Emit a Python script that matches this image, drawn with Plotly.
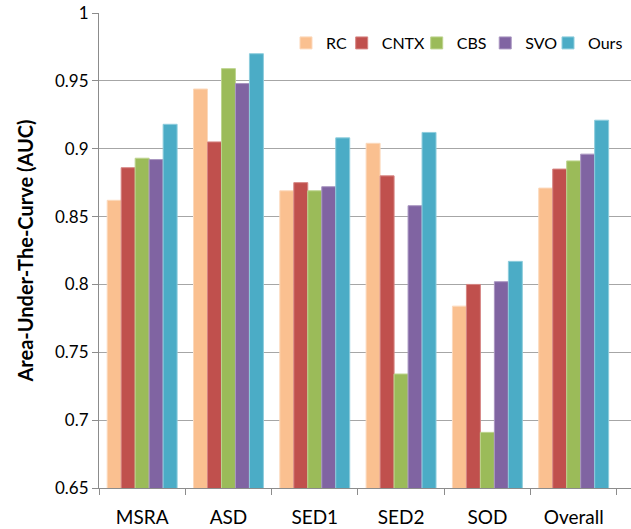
import plotly.graph_objects as go

categories = ["MSRA", "ASD", "SED1", "SED2", "SOD", "Overall"]
rc = [0.862, 0.944, 0.869, 0.904, 0.784, 0.871]
cntx = [0.886, 0.905, 0.875, 0.880, 0.800, 0.885]
cbs = [0.893, 0.959, 0.869, 0.734, 0.691, 0.891]
svo = [0.892, 0.948, 0.872, 0.858, 0.802, 0.896]
ours = [0.918, 0.970, 0.908, 0.912, 0.817, 0.921]
y_ticks = [0.65, 0.7, 0.75, 0.8, 0.85, 0.9, 0.95, 1]
y_tick_text = ["0.65", "0.7", "0.75", "0.8", "0.85", "0.9", "0.95", "1"]

series = [
    ("RC", rc, "#FAC090", "#FCD9BC"),
    ("CNTX", cntx, "#C0504D", "#D68583"),
    ("CBS", cbs, "#9BBB59", "#BDD48E"),
    ("SVO", svo, "#8064A2", "#A996C1"),
    ("Ours", ours, "#4BACC6", "#8ECDDD"),
]
legend_x = [0.3515, 0.4562, 0.5972, 0.7260, 0.8440]

FONT = "Lato, Open Sans, sans-serif"

fig = go.Figure()
legend_layout = {}
for i, (name, vals, col, edge) in enumerate(series):
    key = "legend" if i == 0 else f"legend{i + 1}"
    fig.add_trace(go.Bar(
        x=categories, y=vals, name=name, legend=key,
        marker=dict(color=col, line=dict(color=edge, width=1)),
    ))
    legend_layout[key] = dict(
        orientation="h", x=legend_x[i], xanchor="left",
        y=0.9368, yanchor="middle",
        font=dict(family=FONT, size=16, color="black"),
        bgcolor="rgba(0,0,0,0)", itemwidth=30, itemclick=False,
    )

fig.update_layout(
    width=631, height=529,
    margin=dict(l=99, r=0, t=13, b=41),
    paper_bgcolor="white", plot_bgcolor="white",
    barmode="group", bargap=0.19, bargroupgap=0,
    font=dict(family=FONT, size=15, color="black"),
    showlegend=True,
    **legend_layout,
)

fig.update_xaxes(
    type="category", range=[-0.5, 5.664],
    showline=True, linecolor="#8c8c8c", linewidth=1,
    ticks="outside", tickson="boundaries", ticklen=6, tickcolor="#8c8c8c",
    showgrid=False, tickfont=dict(family=FONT, size=19, color="black"),
    ticklabelstandoff=12,
)
fig.update_yaxes(
    range=[0.65, 1.0], tickvals=y_ticks, ticktext=y_tick_text,
    showline=True, linecolor="#8c8c8c", linewidth=1,
    ticks="outside", ticklen=6, tickcolor="#8c8c8c",
    showgrid=True, gridcolor="#a6a6a6", gridwidth=1,
    zeroline=False,
    tickfont=dict(family=FONT, size=17, color="black"),
    ticklabelstandoff=0,
    title=dict(text="<b>Area-Under-The-Curve (AUC)</b>",
               font=dict(family=FONT, size=20, color="black"), standoff=16),
)

fig.write_html("out.html", config={"displayModeBar": False},
               post_script="document.body.style.margin='0px';")
